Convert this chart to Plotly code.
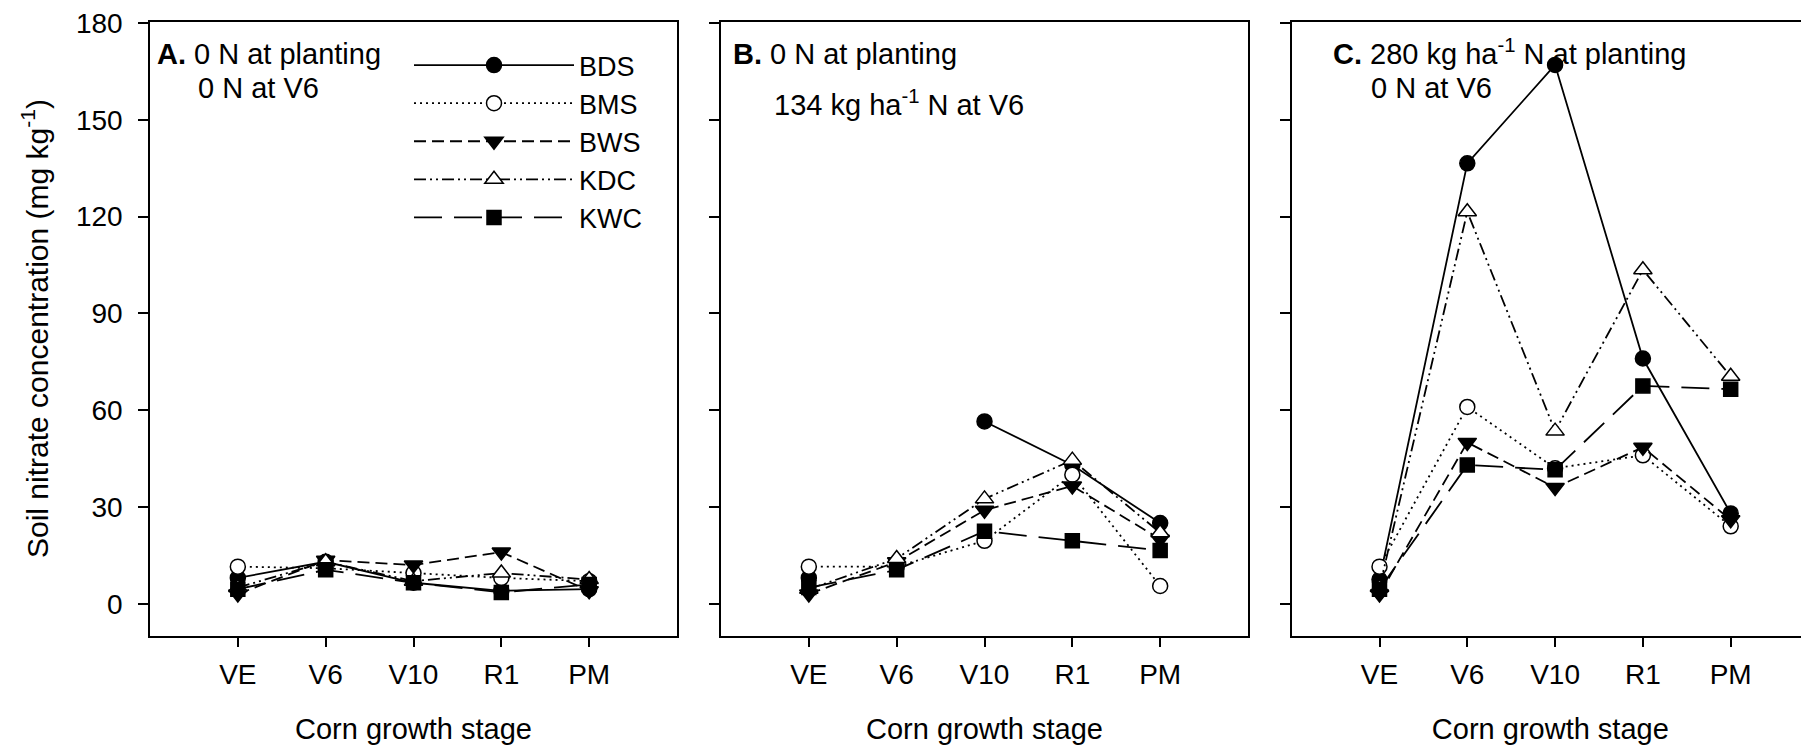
import plotly.graph_objects as go

# ---------------- data ----------------
stages = ["VE", "V6", "V10", "R1", "PM"]
series = ["BDS", "BMS", "BWS", "KDC", "KWC"]

# Panel A: 0 N at planting, 0 N at V6
a_bds = [8.0, 13.0, 6.5, 4.0, 4.5]
a_bms = [11.5, 11.0, 9.5, 8.0, 7.0]
a_bws = [3.0, 13.5, 12.0, 16.0, 4.0]
a_kdc = [5.0, 13.0, 7.0, 9.5, 7.5]
a_kwc = [4.5, 10.5, 6.5, 3.5, 6.0]

# Panel B: 0 N at planting, 134 kg/ha N at V6
b_bds = [8.0, None, 56.5, 43.0, 25.0]
b_bms = [11.5, 11.5, 19.5, 40.0, 5.5]
b_bws = [3.0, 13.0, 29.0, 36.5, 20.0]
b_kdc = [4.5, 14.0, 32.5, 44.5, 22.0]
b_kwc = [5.0, 10.5, 22.5, 19.5, 16.5]

# Panel C: 280 kg/ha N at planting, 0 N at V6
c_bds = [7.5, 136.5, 167.0, 76.0, 28.0]
c_bms = [11.5, 61.0, 42.0, 46.0, 24.0]
c_bws = [3.0, 50.0, 36.0, 48.5, 26.0]
c_kdc = [5.0, 121.5, 53.5, 103.5, 70.5]
c_kwc = [4.5, 43.0, 41.5, 67.5, 66.5]

y_ticks = [0, 30, 60, 90, 120, 150, 180]

panels = [
    (a_bds, a_bms, a_bws, a_kdc, a_kwc),
    (b_bds, b_bms, b_bws, b_kdc, b_kwc),
    (c_bds, c_bms, c_bws, c_kdc, c_kwc),
]

# ---------------- styles ----------------
styles = {
    "BDS": dict(symbol="circle", fill="black", dash="solid", size=15),
    "BMS": dict(symbol="circle", fill="white", dash="2px,4px", size=15),
    "BWS": dict(symbol="triangle-down", fill="black", dash="12px,6px", size=16),
    "KDC": dict(symbol="triangle-up", fill="white", dash="12px,4px,2px,4px,2px,4px", size=16),
    "KWC": dict(symbol="square", fill="black", dash="28px,12px", size=14),
}

FONT = "Liberation Sans, Arial, sans-serif"
fig = go.Figure()

for pi, pdata in enumerate(panels):
    xa = "x" if pi == 0 else f"x{pi+1}"
    ya = "y" if pi == 0 else f"y{pi+1}"
    for name, vals in zip(series, pdata):
        st = styles[name]
        fig.add_trace(go.Scatter(
            x=stages, y=vals, name=name, xaxis=xa, yaxis=ya,
            mode="lines+markers", showlegend=(pi == 0),
            legendgroup=name,
            line=dict(color="black", width=1.8, dash=st["dash"]),
            marker=dict(symbol=st["symbol"], size=st["size"], color=st["fill"],
                        line=dict(color="black", width=1.5)),
            connectgaps=False,
        ))

# The page body has an 8 px margin; the figure is sized so that the
# plotting area lands where the reference has it.
OFF = 8
W, H = 1809 - OFF, 747 - OFF
ML, MR, MT, MB = 150 - OFF, 0, 22 - OFF, 111
PW = W - ML - MR
PH = H - MT - MB

def px_x(p):
    return (p - OFF - ML) / PW

def px_y(p):
    return (H - MB - (p - OFF)) / PH

domains = [
    [px_x(150), px_x(677)],
    [px_x(721), px_x(1248)],
    [px_x(1291.7), 1.0],
]
# visible category range per panel (panel C is cut by the page edge)
xranges = [[-1, 5], [-1, 5], [-1, 4.892]]

axis_common = dict(
    showline=True, linecolor="black", linewidth=1.5,
    ticks="outside", tickcolor="black", tickwidth=1.5,
    showgrid=False, zeroline=False,
)

layout = dict(
    width=W, height=H,
    margin=dict(l=ML, r=MR, t=MT, b=MB, pad=0),
    paper_bgcolor="white", plot_bgcolor="white",
    font=dict(family=FONT, size=29, color="black"),
    showlegend=True,
    legend=dict(
        x=px_x(409), y=px_y(41), xanchor="left", yanchor="top",
        bgcolor="rgba(0,0,0,0)", borderwidth=0,
        itemwidth=160, tracegroupgap=0,
        font=dict(family=FONT, size=27, color="black"),
    ),
)

for pi in range(3):
    xk = "xaxis" if pi == 0 else f"xaxis{pi+1}"
    yk = "yaxis" if pi == 0 else f"yaxis{pi+1}"
    ya = "y" if pi == 0 else f"y{pi+1}"
    xa = "x" if pi == 0 else f"x{pi+1}"
    layout[xk] = dict(
        axis_common, domain=domains[pi], anchor=ya, type="category",
        categoryorder="array", categoryarray=stages,
        range=xranges[pi], mirror=True, ticklen=9,
        tickfont=dict(size=28), ticklabelstandoff=4,
        title=dict(text="Corn growth stage", font=dict(size=29), standoff=29),
    )
    layout[yk] = dict(
        axis_common, domain=[0, 1], anchor=xa, range=[-10, 180.3],
        tickvals=y_ticks, ticklen=10, mirror=(pi < 2),
        showticklabels=(pi == 0), tickfont=dict(size=28),
        ticklabelstandoff=10, ticklabeloverflow="allow",
    )

fig.update_layout(**layout)

ann = []
ann.append(dict(xref="paper", yref="paper", x=px_x(35), y=px_y(329), xanchor="center",
                yanchor="middle", textangle=-90, showarrow=False,
                text="Soil nitrate concentration (mg kg<sup>-1</sup>)",
                font=dict(size=30)))

def add_text(x, y, text):
    ann.append(dict(xref="paper", yref="paper", x=px_x(x), y=px_y(y),
                    xanchor="left", yanchor="middle", showarrow=False,
                    text=text, font=dict(size=29)))

add_text(155, 54, "<b>A.</b> 0 N at planting")
add_text(196, 88, "0 N at V6")
add_text(731, 54, "<b>B.</b> 0 N at planting")
add_text(772, 103, "134 kg ha<sup>-1</sup> N at V6")
add_text(1331, 52, "<b>C.</b> 280 kg ha<sup>-1</sup> N at planting")
add_text(1369, 88, "0 N at V6")

fig.update_layout(annotations=ann)
fig.write_html("out.html")
